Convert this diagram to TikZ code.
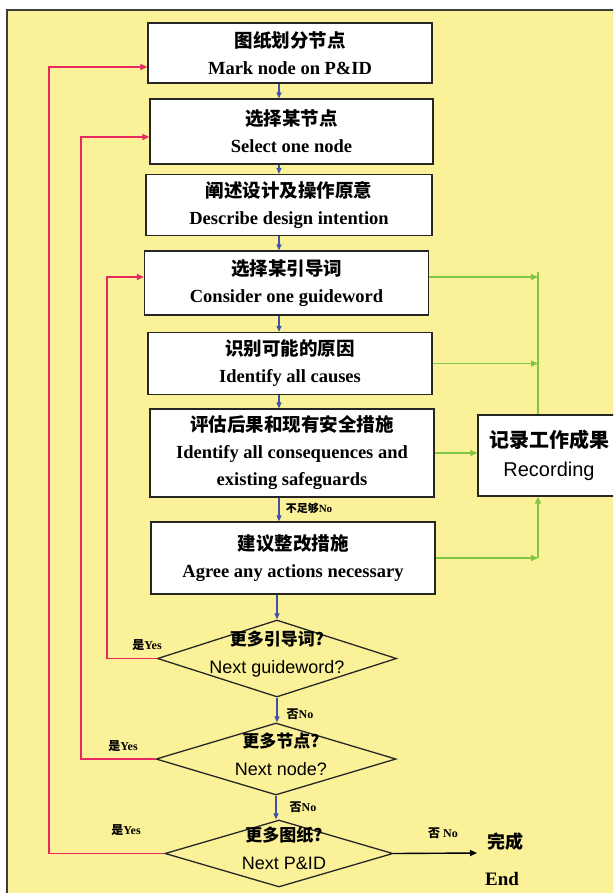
\documentclass[tikz,border=0pt]{standalone}
\usepackage{fontspec}
\setmainfont{Liberation Serif}
\newfontfamily\cjk{Noto Sans CJK SC}
\newfontfamily\sansf{Liberation Sans}
\usetikzlibrary{shapes.geometric,arrows.meta}
\definecolor{panelyellow}{RGB}{250,241,152}
\definecolor{redline}{RGB}{232,40,95}
\definecolor{greenline}{RGB}{128,198,66}
\definecolor{blueline}{RGB}{62,82,168}
\definecolor{frame}{RGB}{60,60,60}
\begin{document}
\begin{tikzpicture}[x=1pt,y=-1pt,
  stepbox/.style={draw=black!85, line width=1.3pt, fill=white, inner sep=0pt, align=center,
    font=\bfseries\fontsize{18.5}{27}\selectfont},
  decision/.style={draw=black!85, line width=1.3pt, diamond, inner sep=0pt},
  dtext/.style={align=center, font=\sansf\fontsize{18}{28}\selectfont, inner sep=0pt},
  lbl/.style={font=\bfseries\fontsize{12}{14}\selectfont, inner sep=0pt},
  bluearr/.style={blueline, line width=1.1pt, -{Triangle[length=6pt,width=5pt]}},
  redarr/.style={redline, line width=1.4pt, -{Triangle[length=7pt,width=6pt]}},
  greenarr/.style={greenline, line width=1.4pt, -{Triangle[length=7pt,width=6pt]}},
  greenln/.style={greenline, line width=1.4pt},
  blackarr/.style={black, line width=1.4pt, -{Triangle[length=7pt,width=6pt]}},
  zh/.style={}
]
\useasboundingbox (0,0) rectangle (613,893);
\clip (0,0) rectangle (613,893);
% panel
\draw[fill=panelyellow, draw=frame, line width=1.4pt] (7,10) rectangle (650,930);

% step boxes
\node[stepbox, minimum width=284pt, minimum height=60pt] (b1) at (290,53)
  {{\cjk 图纸划分节点}\\Mark node on P\&ID};
\node[stepbox, minimum width=283pt, minimum height=65pt] (b2) at (291.5,131.5)
  {{\cjk 选择某节点}\\Select one node};
\node[stepbox, minimum width=286pt, minimum height=61pt] (b3) at (289,205)
  {{\cjk 阐述设计及操作原意}\\Describe design intention};
\node[stepbox, minimum width=284pt, minimum height=64pt] (b4) at (286.5,283)
  {{\cjk 选择某引导词}\\Consider one guideword};
\node[stepbox, minimum width=284pt, minimum height=62pt] (b5) at (290,363.5)
  {{\cjk 识别可能的原因}\\Identify all causes};
\node[stepbox, minimum width=284pt, minimum height=88pt] (b6) at (292,453)
  {{\cjk 评估后果和现有安全措施}\\Identify all consequences and\\existing safeguards};
\node[stepbox, minimum width=284pt, minimum height=72pt] (b7) at (293,558)
  {{\cjk 建议整改措施}\\Agree any actions necessary};
\node[stepbox, minimum width=142pt, minimum height=81pt, font=\fontsize{20}{29}\selectfont] (rec) at (549,455.5)
  {{\cjk\bfseries 记录工作成果}\\{\sansf Recording}};

% decisions
\node[decision, minimum width=239pt, minimum height=77pt] (d1) at (277,658.5) {};
\node[decision, minimum width=240pt, minimum height=72pt] (d2) at (276,759) {};
\node[decision, minimum width=228pt, minimum height=67pt] (d3) at (279,853.5) {};
\node[dtext] (t1) at (277,654) {{\cjk\bfseries\fontsize{17}{28}\selectfont 更多引导词?}\\Next guideword?};
\node[dtext] (t2) at (281,754) {{\cjk\bfseries\fontsize{17}{28}\selectfont 更多节点?}\\Next node?};
\node[dtext] (t3) at (284,848.5) {{\cjk\bfseries\fontsize{17}{28}\selectfont 更多图纸?}\\Next P\&ID};

% blue flow arrows
\coordinate (ax) at (279,0);
\draw[bluearr] (b1.south -| ax) -- (b2.north -| ax);
\draw[bluearr] (b2.south -| ax) -- (b3.north -| ax);
\draw[bluearr] (b3.south -| ax) -- (b4.north -| ax);
\draw[bluearr] (b4.south -| ax) -- (b5.north -| ax);
\draw[bluearr] (b5.south -| ax) -- (b6.north -| ax);
\draw[bluearr] (b6.south -| ax) -- (b7.north -| ax);
\draw[bluearr] (b7.south -| d1.north) -- (d1.north);
\draw[bluearr] (d1.south) -- (d1.south |- d2.north);
\draw[bluearr] (d2.south) -- (d2.south |- d3.north);

\node[lbl, font=\bfseries\fontsize{11}{13}\selectfont] (l0) at (309,508) {{\cjk 不足够}No};
\node[lbl] (l1) at (300,714) {{\cjk 否}No};
\node[lbl] (l2) at (303,807) {{\cjk 否}No};

% red loops
\coordinate (r1) at (49,67);
\coordinate (r2) at (81,137);
\coordinate (r3) at (107,277);
\draw[redarr] (d3.west) -| (r1) -- (b1.west |- r1);
\draw[redarr] (d2.west) -| (r2) -- (b2.west |- r2);
\draw[redarr] (d1.west) -| (r3) -- (b4.west |- r3);
\node[lbl] (y1) at (147,645) {{\cjk 是}Yes};
\node[lbl] (y2) at (123,746) {{\cjk 是}Yes};
\node[lbl] (y3) at (126,830) {{\cjk 是}Yes};

% green recording connectors
\coordinate (g4) at (538,277);
\coordinate (gtop) at (538,272);
\draw[greenarr] (b4.east |- g4) -- (g4);
\draw[greenln] (gtop) -- (rec.north -| gtop);
\draw[greenarr] (b5.east) -- (b5.east -| gtop);
\draw[greenarr] (b6.east) -- (rec.west |- b6.east);
\draw[greenarr] (b7.east) -- (b7.east -| gtop);
\draw[greenarr] (b7.east -| gtop) -- (rec.south -| gtop);

% end
\coordinate (endpt) at (477,853);
\draw[blackarr] (d3.east) -- (endpt);
\node[lbl] (l3) at (443,833) {{\cjk 否} No};
\node[inner sep=0pt, font=\cjk\bfseries\fontsize{18}{20}\selectfont] (done) at (505,842) {完成};
\node[inner sep=0pt, font=\bfseries\fontsize{19}{21}\selectfont] (endt) at (502,879) {End};
\end{tikzpicture}
\end{document}
